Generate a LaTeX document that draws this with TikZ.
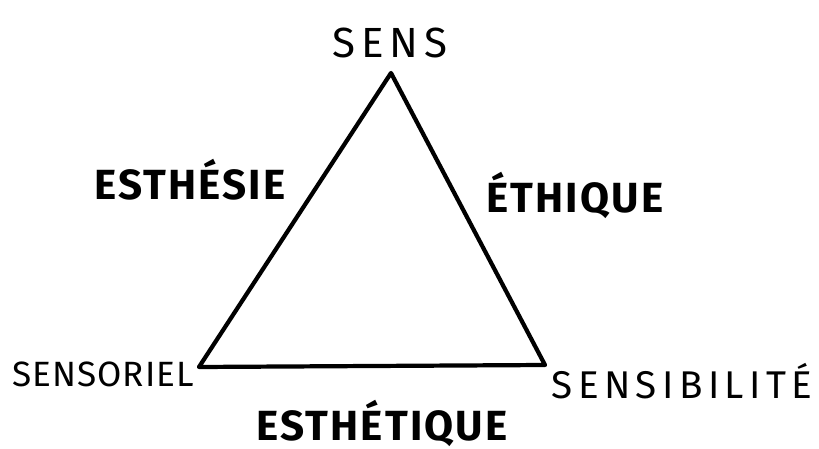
\documentclass[tikz,border=0pt]{standalone}
\usepackage{fontspec}
\setmainfont{Fira Sans}
\newfontfamily\widehand[LetterSpace=14]{Fira Sans}
\newfontfamily\narrowhand[LetterSpace=3]{Fira Sans}
\newfontfamily\boldhand[LetterSpace=5]{Fira Sans}

\tikzset{
  pole/.style={inner sep=0pt, anchor=base},
  mode/.style={font=\fontsize{24}{28}\boldhand\bfseries, inner sep=0pt, anchor=base},
  edge/.style={line width=2.4pt, line cap=round, line join=round}
}

\begin{document}
\begin{tikzpicture}[x=0.02cm,y=-0.02cm]
\useasboundingbox (0,0) rectangle (819,449);
%\draw[help lines,step=50] (0,0) grid (819,449);

% sommets
\coordinate (apex) at (391,73);
\coordinate (left) at (199,367);
\coordinate (right) at (545,365);

\draw[edge] (apex) -- (left) -- (right) -- cycle;

% poles
\node[pole, font=\fontsize{24}{28}\widehand] (sens) at (390,58) {SENS};
\node[pole, font=\fontsize{20}{24}\narrowhand] (sensoriel) at (103,387) {SENSORIEL};
\node[pole, font=\fontsize{22}{26}\widehand] (sensibilite) at (682,399) {SENSIBILITÉ};

% modes
\node[mode] (esthesie) at (190,200) {ESTHÉSIE};
\node[mode] (ethique) at (575,213) {ÉTHIQUE};
\node[mode] (esthetique) at (382,440) {ESTHÉTIQUE};

\end{tikzpicture}
\end{document}
